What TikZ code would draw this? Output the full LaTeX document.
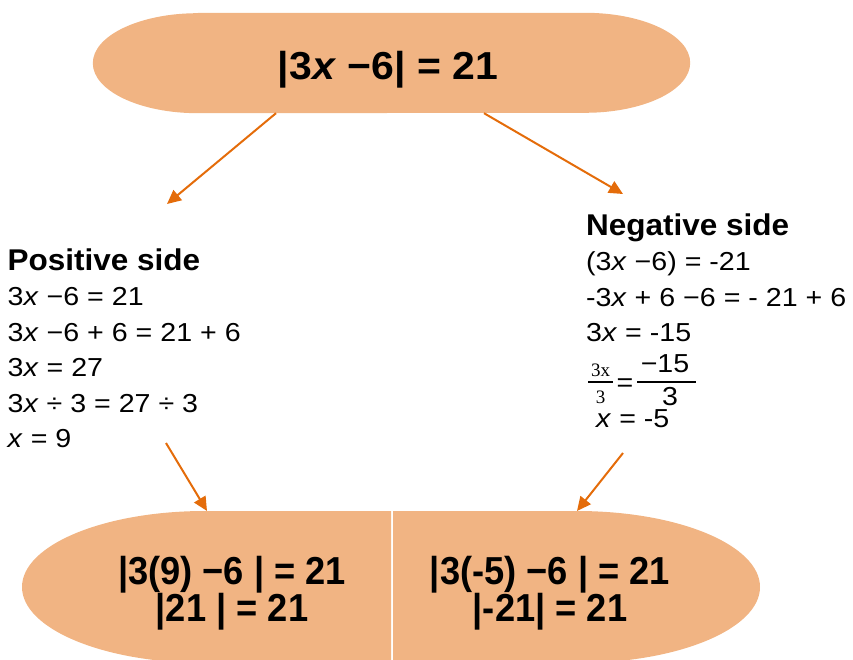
\documentclass[tikz,border=0pt]{standalone}
\usepackage{fontspec}
\setmainfont{Liberation Sans}
\newfontfamily\bodyfont[FakeStretch=1.1]{Liberation Sans}
\newfontfamily\headfont[FakeStretch=1.05]{Liberation Sans}
\newfontfamily\checkfont[FakeStretch=0.93]{Liberation Sans}
\newfontfamily\fracfont{Liberation Serif}
\usetikzlibrary{arrows.meta}
\definecolor{blobfill}{HTML}{F1B483}
\definecolor{arrowc}{HTML}{E46C0A}

\begin{document}
\begin{tikzpicture}[
    x=1pt,y=1pt,
    blob/.style={fill=blobfill},
    arr/.style={->,draw=arrowc,line width=2pt},
    steps/.style={anchor=north west,align=left,inner sep=0pt,font=\bodyfont\fontsize{26}{35.4}\selectfont},
    head/.style={font=\headfont\bfseries\fontsize{30}{35.4}\selectfont},
    check/.style={align=center,inner sep=0pt,font=\checkfont\bfseries\fontsize{39}{37}\selectfont},
    fracpart/.style={inner sep=0pt,anchor=base,font=\fracfont\fontsize{19}{20}\selectfont},
    bigpart/.style={inner sep=0pt,anchor=base,font=\bodyfont\fontsize{26}{30}\selectfont},
    >={Triangle[length=14pt,width=13pt]}
]
\useasboundingbox (0,0) rectangle (853,659);

\node[minimum width=597pt,minimum height=100pt,inner sep=0pt] (topbox) at (391.5,596) {};
\fill[blob] ([xshift=105pt]topbox.north west) -- ([xshift=-105pt]topbox.north east)
    arc[start angle=90,end angle=-90,x radius=105pt,y radius=50pt]
    -- ([xshift=105pt]topbox.south west)
    arc[start angle=270,end angle=90,x radius=105pt,y radius=50pt] -- cycle;
\node[inner sep=0pt,anchor=base,font=\headfont\bfseries\fontsize{39}{39}\selectfont] (eqn) at (388,579) {|3\textit{x} −6| = 21};

\node[steps] (pos) at (7.5,410.5) {{\headfont\bfseries\fontsize{30}{35.4}\selectfont Positive side}\\
    3\textit{x} −6 = 21\\
    3\textit{x} −6 + 6 = 21 + 6\\
    3\textit{x} = 27\\
    3\textit{x} ÷ 3 = 27 ÷ 3\\
    \textit{x} = 9};

\node[steps] (neg) at (586,445.5) {{\headfont\bfseries\fontsize{30}{35.4}\selectfont Negative side}\\
    (3\textit{x} −6) = -21\\
    -3\textit{x} + 6 −6 = - 21 + 6\\
    3\textit{x} = -15};
\node[fracpart] (lnum) at (600.5,283) {3x};
\node[fracpart] (lden) at (600.5,255) {3};
\draw[line width=1.6pt] (588,277) -- (613,277);
\node[bigpart] (eqsign) at (625,267) {=};
\node[bigpart] (rnum) at (665,286) {−15};
\node[bigpart] (rden) at (670,254) {3};
\draw[line width=1.6pt] (637,277) -- (696,277);
\node[steps,anchor=base west] (negx) at (596,232) {\textit{x} = -5};

\fill[blob] (391,148) -- (205,148) arc[start angle=90,end angle=270,x radius=183pt,y radius=76pt] -- (391,-4) -- cycle;
\fill[blob] (393,148) -- (577,148) arc[start angle=90,end angle=-90,x radius=183pt,y radius=76pt] -- (393,-4) -- cycle;
\node[check] (leftcheck) at (232,66) {|3(9) −6 | = 21\\|21 | = 21};
\node[check] (rightcheck) at (550,66) {|3(-5) −6 | = 21\\|-21| = 21};

\coordinate (posend) at (167,455);
\coordinate (negend) at (623,465);
\coordinate (posstart) at (166,216);
\coordinate (negstart) at (623,206);
\coordinate (leftend) at (207,148);
\coordinate (rightend) at (577,148);

\draw[arr] ([xshift=-115.5pt]topbox.south) -- (posend);
\draw[arr] ([xshift=92.5pt]topbox.south) -- (negend);
\draw[arr] (posstart) -- (leftend);
\draw[arr] (negstart) -- (rightend);
\end{tikzpicture}
\end{document}
